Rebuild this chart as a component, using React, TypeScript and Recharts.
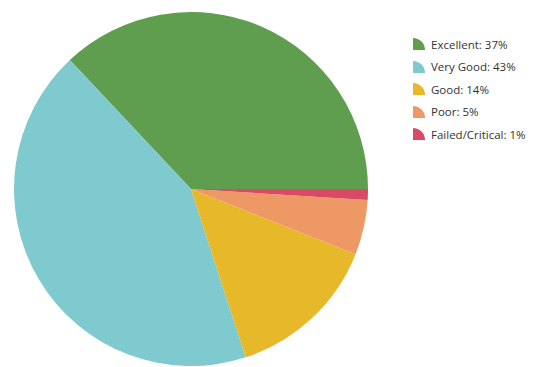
import { Legend, Pie, PieChart, Cell } from "recharts";

const categories = ["Excellent", "Very Good", "Good", "Poor", "Failed/Critical"];
const shares = [37, 43, 14, 5, 1];
const COLORS = ["#5e9e4e", "#7ecacf", "#e7b82a", "#ee9866", "#d94a66"];

const data = categories.map((name, i) => ({ name, value: shares[i] }));

function LegendList() {
  return (
    <div style={{ fontFamily: "'Open Sans', 'Noto Sans', sans-serif", fontSize: 11.5, color: "#333" }}>
      {data.map((d, i) => (
        <div key={d.name} style={{ display: "flex", alignItems: "center", height: 22.5 }}>
          <svg width={12} height={12} style={{ marginRight: 6 }}>
            <path d="M0,12 L0,0 A12,12 0 0 1 12,12 Z" fill={COLORS[i]} />
          </svg>
          <span>{`${d.name}: ${d.value}%`}</span>
        </div>
      ))}
    </div>
  );
}

export default function App() {
  return (
    <PieChart width={537} height={359} margin={{ top: 0, right: 0, bottom: 0, left: 0 }}>
      <Pie
        data={data}
        dataKey="value"
        nameKey="name"
        cx={183}
        cy={181}
        outerRadius={177}
        startAngle={0}
        endAngle={360}
        stroke="none"
        isAnimationActive={false}
      >
        {data.map((_, i) => (
          <Cell key={i} fill={COLORS[i]} />
        ))}
      </Pie>
      <Legend
        content={() => <LegendList />}
        wrapperStyle={{ position: "absolute", left: 405, top: 25, width: 140 }}
      />
    </PieChart>
  );
}
